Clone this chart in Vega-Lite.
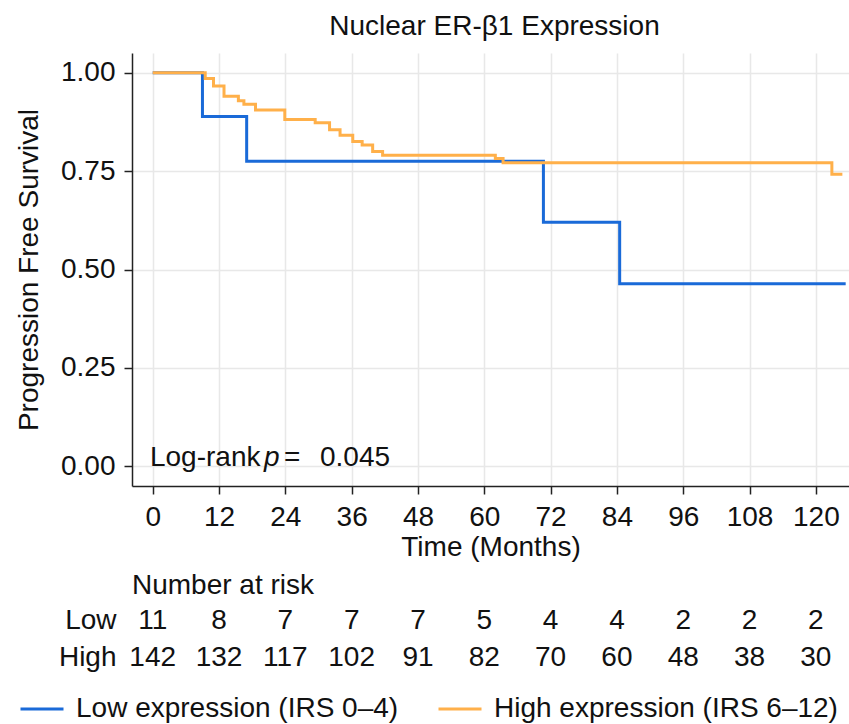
{
  "$schema": "https://vega.github.io/schema/vega-lite/v6.json",
  "background": "white",
  "padding": {"left": 15, "top": 13, "right": 0, "bottom": 5},
  "config": {
    "font": "Liberation Sans",
    "view": {"stroke": null},
    "axis": {
      "labelFontSize": 28, "titleFontSize": 28, "titleFontWeight": "normal",
      "labelColor": "#111", "titleColor": "#111",
      "domainColor": "#222", "domainWidth": 1.5,
      "tickColor": "#222", "tickWidth": 1.5, "tickSize": 8,
      "gridColor": "#e8e8e8", "gridWidth": 1.5
    },
    "title": {"fontSize": 28, "fontWeight": "normal", "color": "#111"}
  },
  "datasets": {
    "km": [
      {"group": "Low expression (IRS 0–4)", "time": 0, "surv": 1.0},
      {"group": "Low expression (IRS 0–4)", "time": 9.0, "surv": 0.889},
      {"group": "Low expression (IRS 0–4)", "time": 17.0, "surv": 0.775},
      {"group": "Low expression (IRS 0–4)", "time": 70.7, "surv": 0.620},
      {"group": "Low expression (IRS 0–4)", "time": 84.5, "surv": 0.464},
      {"group": "Low expression (IRS 0–4)", "time": 125.4, "surv": 0.464},
      {"group": "High expression (IRS 6–12)", "time": 0, "surv": 1.0},
      {"group": "High expression (IRS 6–12)", "time": 9.5, "surv": 0.985},
      {"group": "High expression (IRS 6–12)", "time": 11.0, "surv": 0.966},
      {"group": "High expression (IRS 6–12)", "time": 12.9, "surv": 0.940},
      {"group": "High expression (IRS 6–12)", "time": 15.5, "surv": 0.929},
      {"group": "High expression (IRS 6–12)", "time": 16.5, "surv": 0.920},
      {"group": "High expression (IRS 6–12)", "time": 18.6, "surv": 0.905},
      {"group": "High expression (IRS 6–12)", "time": 23.9, "surv": 0.881},
      {"group": "High expression (IRS 6–12)", "time": 29.4, "surv": 0.873},
      {"group": "High expression (IRS 6–12)", "time": 32.0, "surv": 0.855},
      {"group": "High expression (IRS 6–12)", "time": 33.9, "surv": 0.841},
      {"group": "High expression (IRS 6–12)", "time": 36.2, "surv": 0.825},
      {"group": "High expression (IRS 6–12)", "time": 37.9, "surv": 0.816},
      {"group": "High expression (IRS 6–12)", "time": 39.8, "surv": 0.800},
      {"group": "High expression (IRS 6–12)", "time": 41.6, "surv": 0.790},
      {"group": "High expression (IRS 6–12)", "time": 62.0, "surv": 0.782},
      {"group": "High expression (IRS 6–12)", "time": 63.4, "surv": 0.771},
      {"group": "High expression (IRS 6–12)", "time": 122.9, "surv": 0.742},
      {"group": "High expression (IRS 6–12)", "time": 124.8, "surv": 0.742}
    ],
    "risk": [
      {"group": "Low", "time": 0, "n": 11},
      {"group": "Low", "time": 12, "n": 8},
      {"group": "Low", "time": 24, "n": 7},
      {"group": "Low", "time": 36, "n": 7},
      {"group": "Low", "time": 48, "n": 7},
      {"group": "Low", "time": 60, "n": 5},
      {"group": "Low", "time": 72, "n": 4},
      {"group": "Low", "time": 84, "n": 4},
      {"group": "Low", "time": 96, "n": 2},
      {"group": "Low", "time": 108, "n": 2},
      {"group": "Low", "time": 120, "n": 2},
      {"group": "High", "time": 0, "n": 142},
      {"group": "High", "time": 12, "n": 132},
      {"group": "High", "time": 24, "n": 117},
      {"group": "High", "time": 36, "n": 102},
      {"group": "High", "time": 48, "n": 91},
      {"group": "High", "time": 60, "n": 82},
      {"group": "High", "time": 72, "n": 70},
      {"group": "High", "time": 84, "n": 60},
      {"group": "High", "time": 96, "n": 48},
      {"group": "High", "time": 108, "n": 38},
      {"group": "High", "time": 120, "n": 30}
    ]
  },
  "vconcat": [
    {
      "width": 717,
      "height": 433,
      "title": {"text": "Nuclear ER-β1 Expression", "anchor": "middle", "frame": "group", "offset": 12, "dx": 4},
      "layer": [
        {
          "data": {"name": "km"},
          "mark": {"type": "line", "interpolate": "step-after", "strokeWidth": 3, "clip": true},
          "encoding": {
            "x": {
              "field": "time", "type": "quantitative",
              "scale": {"domain": [-3.75, 126], "nice": false, "zero": false},
              "axis": {"values": [0, 12, 24, 36, 48, 60, 72, 84, 96, 108, 120], "title": "Time (Months)", "labelPadding": 9, "titlePadding": 2}
            },
            "y": {
              "field": "surv", "type": "quantitative",
              "scale": {"domain": [-0.05, 1.05], "nice": false, "zero": false},
              "axis": {"values": [0, 0.25, 0.5, 0.75, 1], "format": ".2f", "title": "Progression Free Survival", "labelPadding": 9, "titlePadding": 17}
            },
            "color": {
              "field": "group", "type": "nominal",
              "scale": {"domain": ["Low expression (IRS 0–4)", "High expression (IRS 6–12)"], "range": ["#1a6ad8", "#ffb04a"]},
              "legend": {
                "orient": "none", "legendX": -113, "legendY": 633,
                "direction": "horizontal", "title": null,
                "symbolType": "stroke", "symbolSize": 1849, "symbolStrokeWidth": 3,
                "labelFontSize": 28, "labelColor": "#111", "labelLimit": 500,
                "columnPadding": 33, "labelOffset": 11
              }
            }
          }
        },
        {
          "data": {"values": [{}]},
          "mark": {"type": "text", "text": "Log-rank", "align": "left", "baseline": "middle", "fontSize": 28, "color": "#111"},
          "encoding": {"x": {"datum": -0.5}, "y": {"datum": 0.022}}
        },
        {
          "data": {"values": [{}]},
          "mark": {"type": "text", "text": "p", "align": "left", "baseline": "middle", "fontSize": 28, "fontStyle": "italic", "color": "#111", "dx": 114},
          "encoding": {"x": {"datum": -0.5}, "y": {"datum": 0.022}}
        },
        {
          "data": {"values": [{}]},
          "mark": {"type": "text", "text": "=", "align": "left", "baseline": "middle", "fontSize": 28, "color": "#111", "dx": 134},
          "encoding": {"x": {"datum": -0.5}, "y": {"datum": 0.022}}
        },
        {
          "data": {"values": [{}]},
          "mark": {"type": "text", "text": "0.045", "align": "left", "baseline": "middle", "fontSize": 28, "color": "#111", "dx": 170},
          "encoding": {"x": {"datum": -0.5}, "y": {"datum": 0.022}}
        }
      ]
    },
    {
      "width": 717,
      "height": 74,
      "title": {"text": "Number at risk", "anchor": "start", "frame": "group", "offset": 2},
      "data": {"name": "risk"},
      "mark": {"type": "text", "fontSize": 28, "color": "#111"},
      "encoding": {
        "x": {"field": "time", "type": "quantitative", "scale": {"domain": [-3.75, 126], "nice": false, "zero": false}, "axis": null},
        "y": {"field": "group", "type": "nominal", "sort": ["Low", "High"], "scale": {"paddingInner": 0, "paddingOuter": 0},
              "axis": {"title": null, "domain": false, "ticks": false, "grid": false, "labelPadding": 16}},
        "text": {"field": "n", "type": "quantitative"}
      }
    }
  ],
  "spacing": 11,
  "resolve": {"scale": {"x": "independent", "y": "independent"}}
}
